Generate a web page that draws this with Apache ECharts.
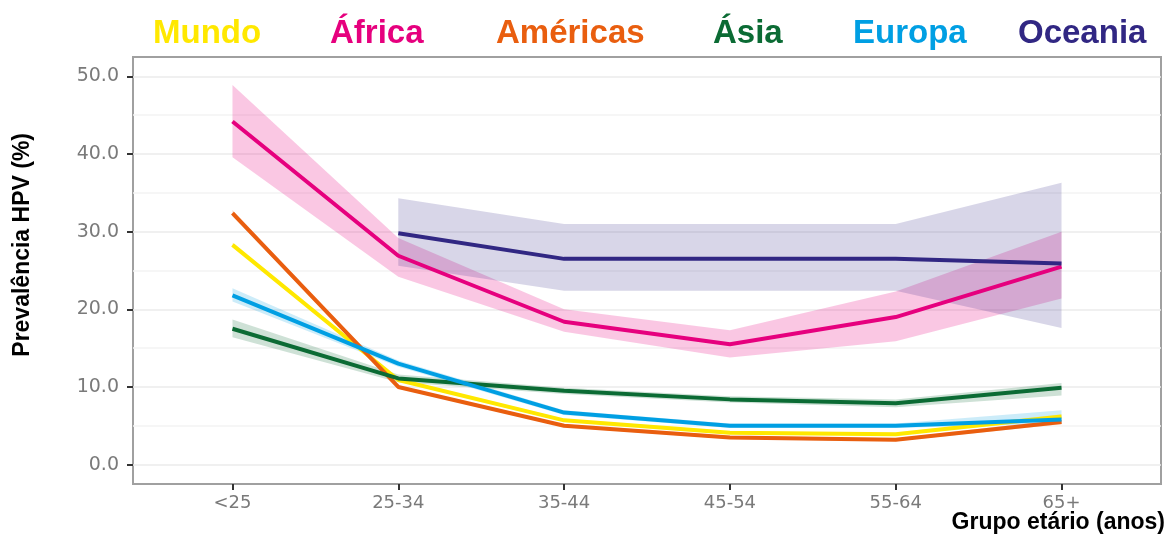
<!DOCTYPE html>
<html>
<head>
<meta charset="utf-8">
<script src="https://cdn.jsdelivr.net/npm/echarts@6/dist/echarts.min.js"></script>
<style>
  html, body { margin: 0; padding: 0; background: #ffffff; }
  #chart { width: 1172px; height: 535px; }
</style>
</head>
<body>
<div id="chart"></div>
<script>
// Age groups on the x axis
const ageGroups = ['<25', '25-34', '35-44', '45-54', '55-64', '65+'];

// Y axis tick values and the lighter in-between grid lines
const yTicks = [0, 10, 20, 30, 40, 50];
const yMinorLines = [5, 15, 25, 35, 45];

// HPV prevalence (%) by age group, with 95% confidence limits
const mundo     = [28.3, 10.9, 5.7, 4.1, 3.9, 6.2];
const mundoLow  = [28.0, 10.7, 5.5, 3.9, 3.7, 5.9];
const mundoHigh = [28.6, 11.1, 5.9, 4.3, 4.1, 6.5];

const africa     = [44.2, 26.9, 18.4, 15.5, 19.0, 25.5];
const africaLow  = [39.6, 24.2, 17.1, 13.8, 15.9, 21.4];
const africaHigh = [48.9, 29.2, 20.0, 17.3, 22.3, 30.0];

const americas     = [32.4, 10.0, 5.0, 3.5, 3.2, 5.5];
const americasLow  = [32.0, 9.8, 4.8, 3.3, 3.0, 5.2];
const americasHigh = [32.8, 10.2, 5.2, 3.7, 3.4, 5.8];

const asia     = [17.5, 11.1, 9.5, 8.4, 7.9, 9.9];
const asiaLow  = [16.4, 10.6, 9.1, 8.0, 7.4, 8.9];
const asiaHigh = [18.7, 11.6, 9.9, 8.8, 8.4, 10.5];

const europa     = [21.8, 13.0, 6.7, 5.0, 5.0, 5.8];
const europaLow  = [21.0, 12.6, 6.4, 4.7, 4.7, 5.3];
const europaHigh = [22.7, 13.4, 7.0, 5.3, 5.3, 7.0];

const oceania     = [null, 29.8, 26.5, 26.5, 26.5, 25.9];
const oceaniaLow  = [null, 25.6, 22.4, 22.4, 22.4, 17.6];
const oceaniaHigh = [null, 34.3, 31.0, 31.0, 31.0, 36.3];

const regions = [
  { name: 'Mundo',    color: '#FFE800', fill: 'rgba(255,232,0,0.22)', mid: mundo,    low: mundoLow,    high: mundoHigh },
  { name: 'África',   color: '#E6007E', fill: 'rgba(230,0,126,0.22)', mid: africa,   low: africaLow,   high: africaHigh },
  { name: 'Américas', color: '#E95E0F', fill: 'rgba(233,94,15,0.22)', mid: americas, low: americasLow, high: americasHigh },
  { name: 'Ásia',     color: '#0B6B34', fill: 'rgba(11,107,52,0.20)', mid: asia,     low: asiaLow,     high: asiaHigh },
  { name: 'Europa',   color: '#009FE3', fill: 'rgba(0,159,227,0.20)', mid: europa,   low: europaLow,   high: europaHigh },
  { name: 'Oceania',  color: '#312783', fill: 'rgba(49,39,131,0.19)', mid: oceania,  low: oceaniaLow,  high: oceaniaHigh }
];

// Left offset of each legend word across the top
const legendLefts = [143, 320, 486, 703, 843, 1008];

function points(values) {
  const out = [];
  values.forEach(function (v, i) { if (v != null) out.push([i, v]); });
  return out;
}
function bandRows(low, high) {
  const out = [];
  low.forEach(function (v, i) { if (v != null) out.push([i, v, high[i]]); });
  return out;
}

const series = [];
// Confidence bands: one filled polygon per region, upper edge then lower edge back
regions.forEach(function (r) {
  const rows = bandRows(r.low, r.high);
  series.push({
    type: 'custom', name: r.name + ' ci', data: rows, silent: true, z: 1, clip: true,
    encode: { x: 0, y: [1, 2] },
    renderItem: function (params, api) {
      if (params.dataIndex !== 0) return null;
      const upper = [], lower = [];
      for (let j = 0; j < rows.length; j++) {
        const x = api.value(0, j);
        upper.push(api.coord([x, api.value(2, j)]));
        lower.unshift(api.coord([x, api.value(1, j)]));
      }
      return {
        type: 'polygon',
        shape: { points: upper.concat(lower) },
        style: { fill: r.fill, stroke: null }
      };
    }
  });
});
regions.forEach(function (r) {
  series.push({
    type: 'line', name: r.name, data: points(r.mid), symbol: 'none', z: 3,
    color: r.color, lineStyle: { color: r.color, width: 4 }, emphasis: { disabled: true }
  });
});

const legends = regions.map(function (r, i) {
  return {
    top: 12, left: legendLefts[i], icon: 'none', itemWidth: 0, itemHeight: 0,
    selectedMode: false,
    data: [{ name: r.name, textStyle: { color: r.color } }],
    textStyle: { fontFamily: 'Liberation Sans, Arial, sans-serif', fontWeight: 'bold', fontSize: 33, color: r.color }
  };
});

const chart = echarts.init(document.getElementById('chart'), null, { renderer: 'canvas' });
chart.setOption({
  animation: false,
  backgroundColor: '#ffffff',
  legend: legends,
  grid: {
    left: 133, right: 11, top: 57, bottom: 51,
    show: true, borderColor: '#a0a0a0', borderWidth: 2, backgroundColor: 'transparent'
  },
  xAxis: {
    type: 'value', min: -0.6, max: 5.6,
    axisLine: { show: false, onZero: false },
    splitLine: { show: false },
    axisTick: { show: true, customValues: [0, 1, 2, 3, 4, 5], length: 6, lineStyle: { color: '#333333', width: 2 } },
    axisLabel: {
      customValues: [0, 1, 2, 3, 4, 5],
      formatter: function (v) { return ageGroups[Math.round(v)]; },
      color: '#7a7a7a', fontFamily: 'DejaVu Sans, sans-serif', fontSize: 18, margin: 10
    }
  },
  yAxis: [
    {
      type: 'value', min: -2.5, max: 52.5,
      axisLine: { show: false, onZero: false },
      axisTick: { show: true, customValues: yTicks, length: 6, lineStyle: { color: '#333333', width: 2 } },
      axisLabel: {
        customValues: yTicks,
        formatter: function (v) { return v.toFixed(1); },
        color: '#7a7a7a', fontFamily: 'DejaVu Sans, sans-serif', fontSize: 19, margin: 14
      },
      splitLine: { show: true, lineStyle: { color: '#ebebeb', width: 1.5 } }
    },
    {
      type: 'value', min: -2.5, max: 52.5, position: 'left',
      axisLine: { show: false, onZero: false },
      axisTick: { show: false, customValues: yMinorLines },
      axisLabel: { show: false, customValues: yMinorLines },
      splitLine: { show: true, lineStyle: { color: '#f3f3f3', width: 1.5 } }
    }
  ],
  graphic: [
    {
      type: 'text', left: 11, top: 133, rotation: Math.PI / 2, originX: 0, originY: 0,
      style: {
        text: 'Prevalência HPV (%)', fill: '#000000',
        font: 'bold 23px "Liberation Sans", Arial, sans-serif'
      }
    },
    {
      type: 'text', right: 7, bottom: 1,
      style: {
        text: 'Grupo etário (anos)', fill: '#000000',
        font: 'bold 23px "Liberation Sans", Arial, sans-serif'
      }
    }
  ],
  series: series
});
</script>
</body>
</html>
